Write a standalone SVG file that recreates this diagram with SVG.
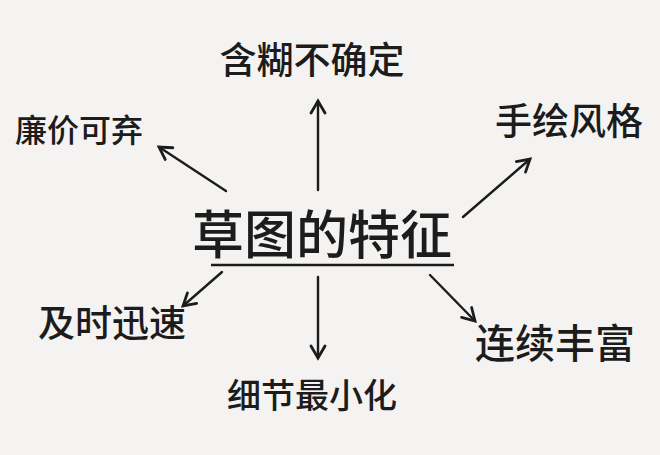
<svg xmlns="http://www.w3.org/2000/svg" width="660" height="455" viewBox="0 0 660 455">
<style>
.t{font-family:"Noto Sans CJK SC","Noto Sans CJK JP",sans-serif;fill:#1c1c1c;text-anchor:middle;font-weight:500}
.c{stroke:#1c1c1c;stroke-width:2.4;fill:none;stroke-linecap:round}
</style>
<defs>
<marker id="ah" markerUnits="userSpaceOnUse" markerWidth="20" markerHeight="20" refX="14" refY="8" viewBox="0 0 20 16" orient="auto">
<path d="M2,1 L14,8 L2,15" fill="none" stroke="#1c1c1c" stroke-width="2.8" stroke-linejoin="miter" stroke-linecap="round"/>
</marker>
</defs>
<rect width="660" height="455" fill="#f4f3f1"/>
<g id="connectors">
<line class="c" x1="318" y1="190" x2="318" y2="101" marker-end="url(#ah)"/>
<line class="c" x1="226" y1="191" x2="159" y2="147" marker-end="url(#ah)"/>
<line class="c" x1="463" y1="217" x2="530" y2="159" marker-end="url(#ah)"/>
<line class="c" x1="430" y1="275" x2="475" y2="321" marker-end="url(#ah)"/>
<line class="c" x1="222" y1="272" x2="183" y2="306" marker-end="url(#ah)"/>
<line class="c" x1="318" y1="277" x2="318" y2="358" marker-end="url(#ah)"/>
</g>
<g id="center">
<text class="t" x="322" y="254" font-size="52">草图的特征</text>
<line x1="211" y1="265" x2="454" y2="265" stroke="#1c1c1c" stroke-width="2.6"/>
</g>
<g id="top"><text class="t" x="312" y="74" font-size="37">含糊不确定</text></g>
<g id="topleft"><text class="t" x="79" y="142" font-size="32">廉价可弃</text></g>
<g id="topright"><text class="t" x="569" y="135" font-size="37">手绘风格</text></g>
<g id="right"><text class="t" x="555" y="358" font-size="40">连续丰富</text></g>
<g id="left"><text class="t" x="112" y="337" font-size="37">及时迅速</text></g>
<g id="bottom"><text class="t" x="312" y="408" font-size="34">细节最小化</text></g>
</svg>
